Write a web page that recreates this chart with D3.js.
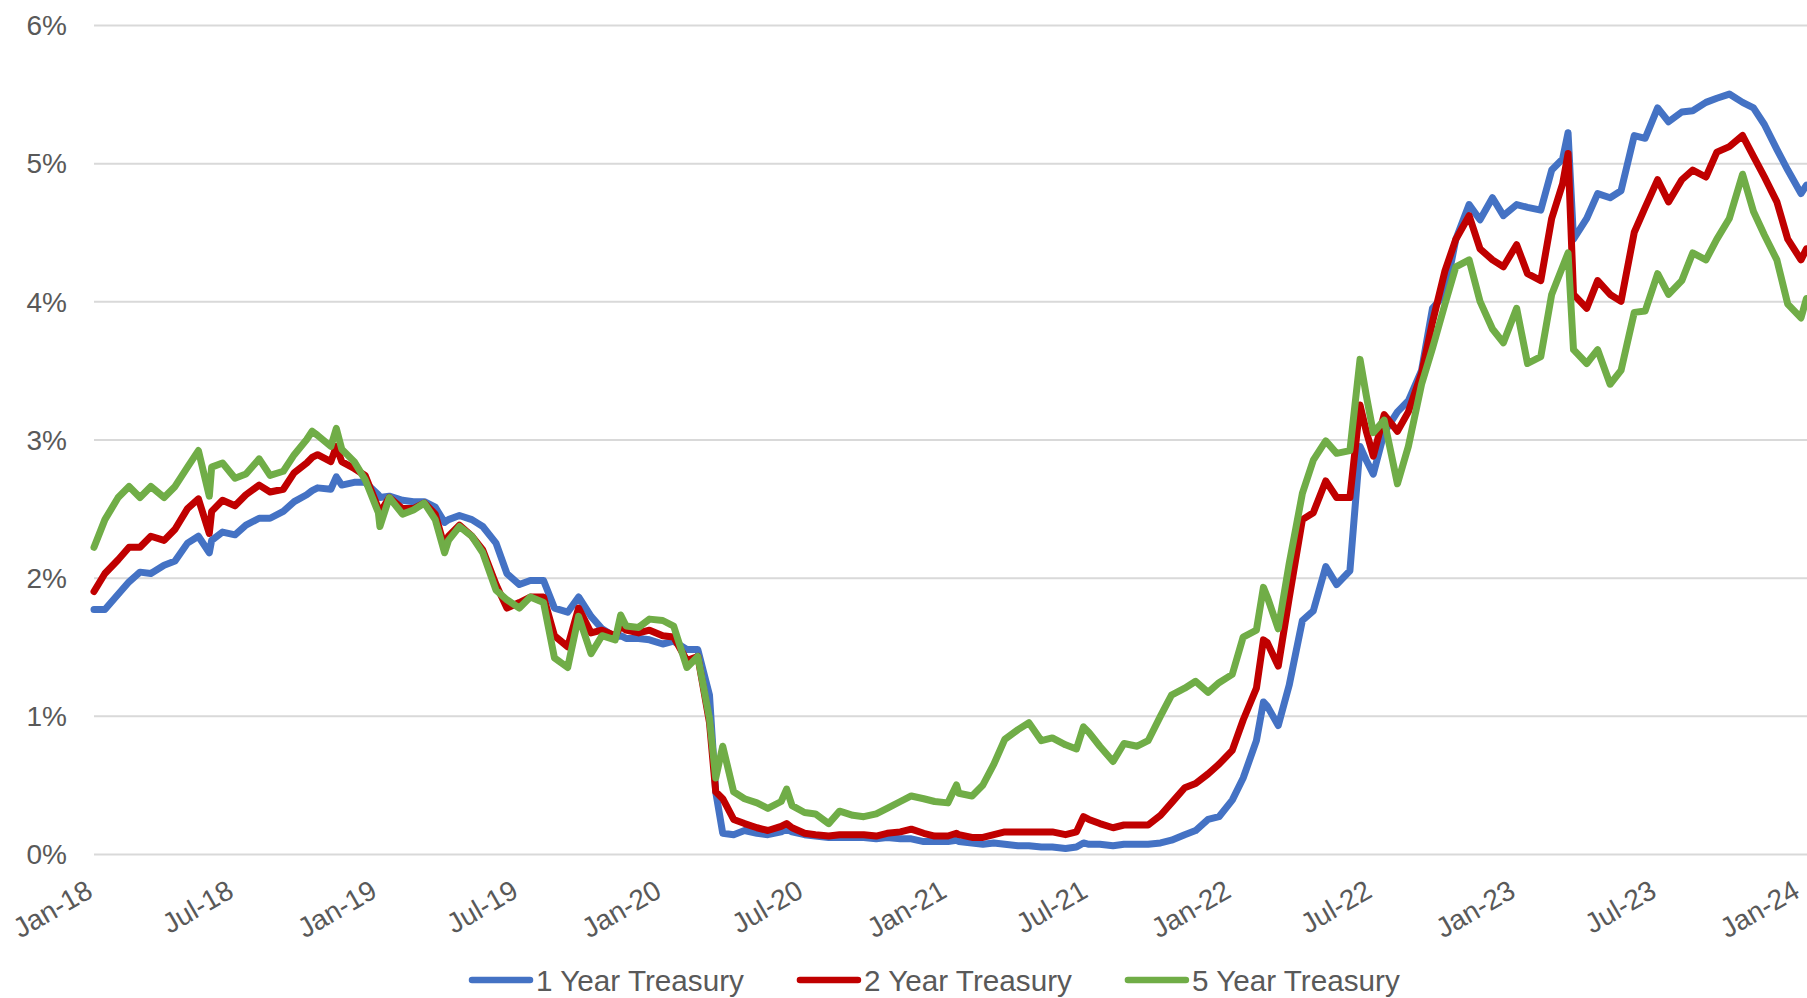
<!DOCTYPE html>
<html><head><meta charset="utf-8">
<script src="https://cdn.jsdelivr.net/npm/d3@7"></script>
<style>
body{margin:0;background:#fff;}
svg{display:block;font-family:"Liberation Sans",Arial,sans-serif;}
</style>
</head><body>
<svg id="chart" width="1807" height="998"></svg>
<script>
// ---- DATA (percent yields) ----
const dates = [
"2018-01-01","2018-01-15","2018-02-01","2018-02-15","2018-03-01","2018-03-15","2018-04-01","2018-04-15","2018-05-01","2018-05-15","2018-05-29","2018-06-01","2018-06-15","2018-07-01","2018-07-15","2018-08-01","2018-08-15","2018-09-01","2018-09-15","2018-10-01","2018-10-08","2018-10-15","2018-11-01","2018-11-08","2018-11-15","2018-12-01","2018-12-15",
"2019-01-01","2019-01-03","2019-01-15","2019-02-01","2019-02-15","2019-03-01","2019-03-15","2019-03-27","2019-04-01","2019-04-15","2019-05-01","2019-05-15","2019-06-01","2019-06-15","2019-07-01","2019-07-15","2019-08-01","2019-08-15","2019-09-01","2019-09-15","2019-10-01","2019-10-15","2019-11-01","2019-11-08","2019-11-15","2019-12-01","2019-12-15",
"2020-01-01","2020-01-15","2020-02-01","2020-02-15","2020-03-01","2020-03-09","2020-03-18","2020-04-01","2020-04-15","2020-05-01","2020-05-15","2020-06-01","2020-06-08","2020-06-15","2020-07-01","2020-07-15","2020-08-01","2020-08-15","2020-09-01","2020-09-15","2020-10-01","2020-10-15","2020-11-01","2020-11-15","2020-12-01","2020-12-15",
"2021-01-01","2021-01-12","2021-01-15","2021-02-01","2021-02-15","2021-03-01","2021-03-15","2021-04-01","2021-04-15","2021-05-01","2021-05-15","2021-06-01","2021-06-15","2021-06-24","2021-07-01","2021-07-15","2021-08-01","2021-08-15","2021-09-01","2021-09-15","2021-10-01","2021-10-15","2021-11-01","2021-11-15","2021-12-01","2021-12-15",
"2022-01-01","2022-01-15","2022-02-01","2022-02-10","2022-02-15","2022-03-01","2022-03-15","2022-04-01","2022-04-15","2022-05-01","2022-05-15","2022-06-01","2022-06-14","2022-06-22","2022-07-01","2022-07-15","2022-08-01","2022-08-15","2022-09-01","2022-09-15","2022-10-01","2022-10-15","2022-11-01","2022-11-15","2022-12-01","2022-12-15",
"2023-01-01","2023-01-15","2023-02-01","2023-02-15","2023-03-01","2023-03-08","2023-03-15","2023-04-01","2023-04-15","2023-05-01","2023-05-15","2023-06-01","2023-06-15","2023-07-01","2023-07-15","2023-08-01","2023-08-15","2023-09-01","2023-09-15","2023-10-01","2023-10-18","2023-11-01","2023-11-15","2023-12-01","2023-12-15",
"2024-01-01","2024-01-08"
];
const oneYear = [
1.77,1.77,1.88,1.97,2.04,2.03,2.09,2.12,2.25,2.30,2.18,2.27,2.33,2.31,2.38,2.43,2.43,2.48,2.55,2.60,2.63,2.65,2.64,2.73,2.67,2.69,2.69,
2.60,2.58,2.59,2.56,2.55,2.55,2.51,2.40,2.42,2.45,2.42,2.37,2.25,2.03,1.95,1.98,1.98,1.78,1.75,1.86,1.72,1.63,1.57,1.58,1.56,1.56,1.55,
1.52,1.54,1.48,1.48,1.15,0.45,0.15,0.14,0.17,0.15,0.14,0.16,0.18,0.16,0.14,0.13,0.12,0.12,0.12,0.12,0.11,0.12,0.11,0.11,0.09,0.09,
0.09,0.10,0.09,0.08,0.07,0.08,0.07,0.06,0.06,0.05,0.05,0.04,0.05,0.08,0.07,0.07,0.06,0.07,0.07,0.07,0.08,0.10,0.14,0.17,0.25,0.27,
0.39,0.55,0.82,1.10,1.07,0.93,1.22,1.69,1.76,2.08,1.95,2.05,2.95,2.85,2.75,3.05,3.20,3.28,3.50,3.95,4.05,4.45,4.70,4.59,4.75,4.62,
4.70,4.68,4.66,4.95,5.03,5.22,4.45,4.60,4.78,4.75,4.80,5.20,5.18,5.40,5.30,5.37,5.38,5.44,5.47,5.50,5.44,5.40,5.28,5.10,4.95,
4.78,4.84
];
const twoYear = [
1.90,2.03,2.13,2.22,2.22,2.30,2.27,2.35,2.50,2.57,2.32,2.48,2.56,2.52,2.60,2.67,2.62,2.64,2.76,2.83,2.87,2.89,2.84,2.95,2.84,2.79,2.74,
2.50,2.47,2.58,2.50,2.50,2.54,2.46,2.22,2.30,2.38,2.30,2.20,1.95,1.78,1.82,1.86,1.86,1.58,1.50,1.78,1.60,1.62,1.58,1.65,1.62,1.60,1.62,
1.58,1.57,1.40,1.43,0.95,0.45,0.40,0.25,0.22,0.19,0.17,0.20,0.22,0.19,0.15,0.14,0.13,0.14,0.14,0.14,0.13,0.15,0.16,0.18,0.15,0.13,
0.13,0.15,0.14,0.12,0.12,0.14,0.16,0.16,0.16,0.16,0.16,0.14,0.16,0.27,0.25,0.22,0.19,0.21,0.21,0.21,0.28,0.37,0.48,0.51,0.58,0.65,
0.75,0.97,1.20,1.55,1.53,1.36,1.85,2.42,2.47,2.70,2.58,2.58,3.25,3.06,2.88,3.18,3.06,3.20,3.48,3.85,4.22,4.45,4.62,4.38,4.30,4.25,
4.41,4.20,4.15,4.60,4.85,5.07,4.05,3.95,4.15,4.05,4.00,4.50,4.68,4.88,4.72,4.88,4.95,4.90,5.08,5.12,5.20,5.05,4.90,4.72,4.45,
4.30,4.38
];
const fiveYear = [
2.22,2.42,2.58,2.66,2.58,2.66,2.58,2.66,2.80,2.92,2.59,2.80,2.83,2.72,2.75,2.86,2.74,2.77,2.89,3.00,3.06,3.03,2.95,3.08,2.93,2.84,2.71,
2.47,2.37,2.58,2.46,2.49,2.54,2.42,2.18,2.27,2.37,2.30,2.18,1.91,1.84,1.78,1.86,1.82,1.42,1.35,1.72,1.45,1.58,1.55,1.73,1.65,1.64,1.70,
1.69,1.65,1.35,1.43,0.98,0.55,0.78,0.45,0.40,0.37,0.33,0.38,0.47,0.35,0.30,0.29,0.22,0.31,0.28,0.27,0.29,0.33,0.38,0.42,0.40,0.38,
0.37,0.50,0.44,0.42,0.50,0.65,0.83,0.90,0.95,0.82,0.84,0.79,0.76,0.92,0.88,0.78,0.67,0.80,0.78,0.82,1.00,1.15,1.20,1.25,1.17,1.24,
1.30,1.57,1.62,1.93,1.86,1.63,2.10,2.61,2.85,2.99,2.90,2.92,3.58,3.32,3.05,3.14,2.68,2.95,3.40,3.66,3.98,4.25,4.30,4.00,3.80,3.70,
3.95,3.55,3.60,4.05,4.25,4.35,3.65,3.55,3.65,3.40,3.50,3.92,3.93,4.20,4.05,4.15,4.35,4.30,4.45,4.60,4.92,4.65,4.48,4.30,3.98,
3.88,4.02
];
const seriesNames = ["1 Year Treasury","2 Year Treasury","5 Year Treasury"];
const seriesColors = ["#4472C4","#C00000","#70AD47"];
const yTicks = [0,1,2,3,4,5,6];
const xTickDates = ["2018-01-01","2018-07-01","2019-01-01","2019-07-01","2020-01-01","2020-07-01","2021-01-01","2021-07-01","2022-01-01","2022-07-01","2023-01-01","2023-07-01","2024-01-01"];
const xTickLabels = ["Jan-18","Jul-18","Jan-19","Jul-19","Jan-20","Jul-20","Jan-21","Jul-21","Jan-22","Jul-22","Jan-23","Jul-23","Jan-24"];

// ---- CHART ----
const W = 1807, H = 998;
const parse = d3.timeParse("%Y-%m-%d");
const svg = d3.select("#chart");
const plotLeft = 94, plotTop = 25, plotBottom = 854;
const x = d3.scaleTime().domain([parse("2018-01-01"), parse("2024-01-01")]).range([plotLeft, 1801]);
const y = d3.scaleLinear().domain([0, 6]).range([plotBottom, plotTop]);

const textColor = "#595959";

// y axis + gridlines
const yAxis = svg.append("g").attr("transform", `translate(${plotLeft},0)`)
  .call(d3.axisLeft(y).tickValues(yTicks).tickFormat(d => d + "%").tickSize(-(W - plotLeft)).tickPadding(27));
yAxis.select(".domain").remove();
yAxis.selectAll(".tick line").attr("stroke", "#d9d9d9").attr("stroke-width", 2);
yAxis.selectAll(".tick text").attr("fill", textColor).style("font-size", "28px")
  .attr("font-family", "Liberation Sans, Arial, sans-serif").attr("dy", "0.35em");

// x axis labels
const tickDates = xTickDates.map(parse);
const xAxis = svg.append("g").attr("transform", `translate(0,${plotBottom})`)
  .call(d3.axisBottom(x).tickValues(tickDates).tickSize(0).tickFormat((d, i) => xTickLabels[i]));
xAxis.select(".domain").remove();
xAxis.selectAll(".tick text")
  .attr("fill", textColor).style("font-size", "28px")
  .attr("font-family", "Liberation Sans, Arial, sans-serif")
  .attr("text-anchor", "end").attr("x", 0).attr("y", 0).attr("dy", 0)
  .attr("transform", "translate(0,42) rotate(-30)");

// lines
const parsedDates = dates.map(parse);
const allSeries = [oneYear, twoYear, fiveYear];
const line = d3.line().x((d, i) => x(parsedDates[i])).y(d => y(d)).curve(d3.curveLinear);
svg.append("defs").append("clipPath").attr("id", "clip")
  .append("rect").attr("x", 0).attr("y", 0).attr("width", W).attr("height", H);
const lines = svg.append("g").attr("clip-path", "url(#clip)");
allSeries.forEach((s, k) => {
  lines.append("path").datum(s)
    .attr("d", line)
    .attr("fill", "none")
    .attr("stroke", seriesColors[k])
    .attr("stroke-width", 7)
    .attr("stroke-linejoin", "round")
    .attr("stroke-linecap", "round");
});

// legend
const legend = svg.append("g").attr("transform", "translate(0,980)");
let cx = 472;
seriesNames.forEach((name, k) => {
  const g = legend.append("g");
  g.append("line").attr("x1", cx).attr("x2", cx + 58).attr("y1", 0).attr("y2", 0)
    .attr("stroke", seriesColors[k]).attr("stroke-width", 6.5).attr("stroke-linecap", "round");
  const t = g.append("text").attr("x", cx + 64).attr("y", 0).attr("dy", "0.36em")
    .attr("fill", textColor).style("font-size", "29.7px").text(name);
  cx = cx + 64 + t.node().getComputedTextLength() + 56;
});
</script>
</body></html>
